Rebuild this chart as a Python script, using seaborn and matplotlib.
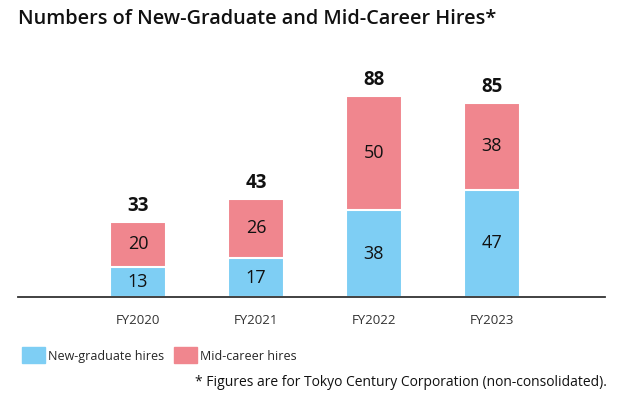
import pandas as pd
import matplotlib.pyplot as plt
import matplotlib.patches as mpatches
import seaborn as sns

sns.set_style("white")
plt.rcParams['font.family'] = ['Open Sans', 'DejaVu Sans']

years = ['FY2020', 'FY2021', 'FY2022', 'FY2023']
new_grad = [13, 17, 38, 47]
mid_career = [20, 26, 50, 38]

blue = '#7ECEF4'
pink = '#F0868E'

df = pd.DataFrame({'year': years, 'new': new_grad, 'mid': mid_career})
df['total'] = df['new'] + df['mid']

fig = plt.figure(figsize=(6.2, 3.98), dpi=100)
ax = fig.add_axes([0.029, 0.2538, 0.947, 0.574])

# total bar in pink, new-grad bar drawn over it in blue
sns.barplot(data=df, x='year', y='total', color=pink, width=0.48,
            edgecolor='white', linewidth=1.5, saturation=1, ax=ax)
sns.barplot(data=df, x='year', y='new', color=blue, width=0.48,
            edgecolor='white', linewidth=1.5, saturation=1, ax=ax)

for i, row in df.iterrows():
    ax.text(i, row['new'] / 2, str(row['new']), ha='center', va='center',
            fontsize=13, color='#111111')
    ax.text(i, row['new'] + row['mid'] / 2, str(row['mid']), ha='center',
            va='center', fontsize=13, color='#111111')
    ax.text(i, row['total'] + 2.5, str(row['total']), ha='center',
            va='bottom', fontsize=13.5, fontweight='bold', color='#111111')

ax.set_xlim(-1.017, 3.96)
ax.set_ylim(0, 100)
ax.set_xlabel('')
ax.set_ylabel('')
ax.set_yticks([])
sns.despine(ax=ax, left=True, right=True, top=True)
ax.spines['bottom'].set_color('#333333')
ax.spines['bottom'].set_linewidth(1.3)
ax.tick_params(axis='x', length=0, pad=12, labelsize=9.5, labelcolor='#333333')

fig.text(0.029, 0.952, 'Numbers of New-Graduate and Mid-Career Hires*',
         fontsize=14.3, fontweight='semibold', ha='left', va='center', color='#111111')

handles = [mpatches.Patch(color=blue, label='New-graduate hires'),
           mpatches.Patch(color=pink, label='Mid-career hires')]
fig.legend(handles=handles, loc='center left', bbox_to_anchor=(0.018, 0.107),
           ncol=2, frameon=False, fontsize=9, handlelength=1.8,
           handleheight=1.6, handletextpad=0.25, columnspacing=0.8)

fig.text(0.979, 0.04, '* Figures are for Tokyo Century Corporation (non-consolidated).',
         fontsize=10, ha='right', va='center', color='#111111')

fig.savefig('out.png', dpi=100)
